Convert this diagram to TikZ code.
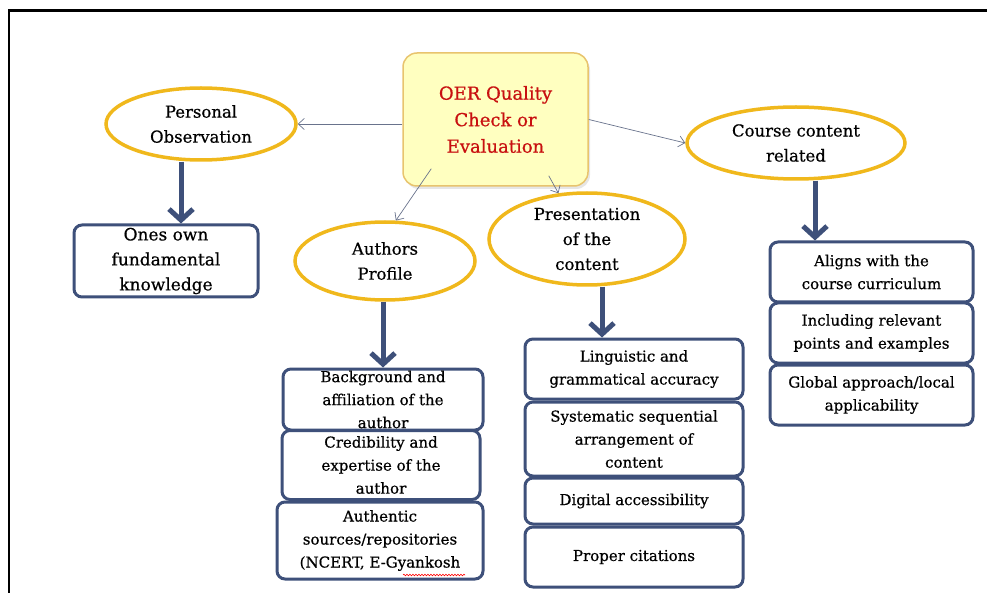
\documentclass[tikz,border=0pt]{standalone}
\usepackage{fontspec}
\setmainfont[FakeBold=0.6]{DejaVu Serif}
\usetikzlibrary{arrows.meta,shapes.geometric,shadows,calc,decorations.pathmorphing}

\definecolor{oergold}{RGB}{240,184,28}
\definecolor{oernavy}{RGB}{62,80,122}
\definecolor{oerline}{RGB}{105,115,140}
\definecolor{oerfill}{RGB}{255,255,192}
\definecolor{oeredge}{RGB}{232,196,110}
\definecolor{oerred}{RGB}{200,16,16}

\tikzset{
  topic/.style={ellipse, draw=oergold, line width=3.5pt, fill=white, inner sep=0pt,
    align=center, font=\fontsize{16.5}{25}\selectfont},
  item/.style={rectangle, rounded corners=8pt, draw=oernavy, line width=3pt, fill=white,
    inner sep=0pt, align=center, font=\fontsize{15}{23}\selectfont},
  link/.style={draw=oerline, line width=0.7pt, -{Straight Barb[length=6pt,width=11pt]}},
  bigarrow/.style={draw=oernavy, line width=5pt, -{Straight Barb[length=11pt,width=24pt]}}
}

\begin{document}
\begin{tikzpicture}[x=1pt,y=-1pt]
    \useasboundingbox (0,0) rectangle (987,593);
    % Draw frame
    \draw[line width=2.5pt] (987,10.5) -- (9,10.5) -- (9,593);

    % Central node
    \node[rectangle, rounded corners=14pt, draw=oeredge, line width=1.5pt, fill=oerfill,
        minimum width=185pt, minimum height=133pt, text=oerred, align=center,
        font=\fontsize{18}{26.5}\selectfont,
        drop shadow={shadow xshift=2pt, shadow yshift=-3pt, opacity=0.2}]
        (oer) at (495.5,119.5) {OER Quality\\Check or\\Evaluation};

    % Topics
    \node[topic, minimum width=190pt, minimum height=72pt] (pers) at (201,124) {Personal\\Observation};
    \node[topic, minimum width=180pt, minimum height=78pt] (auth) at (385,261) {Authors\\Profile};
    \node[topic, minimum width=196pt, minimum height=92pt] (pres) at (587,239) {Presentation\\of the\\content};
    \node[topic, minimum width=218pt, minimum height=72pt] (course) at (796,143) {Course content\\related};

    % Boxes
    \node[item, minimum width=184pt, minimum height=72pt, font=\fontsize{17}{25}\selectfont]
        (own) at (166,261) {Ones own\\fundamental\\knowledge};

    \node[item, minimum width=200pt, minimum height=61pt] (auth1) at (383,399.5) {Background and\\affiliation of the\\author};
    \node[item, minimum width=198pt, minimum height=69pt] (auth2) at (381,465) {Credibility and\\expertise of the\\author};
    \node[item, minimum width=206pt, minimum height=77pt] (auth3) at (380,540.5) {Authentic\\sources/repositories\\(NCERT, E-Gyankosh};

    \node[item, minimum width=218pt, minimum height=60pt] (pres1) at (634,369) {Linguistic and\\grammatical accuracy};
    \node[item, minimum width=218pt, minimum height=74pt] (pres2) at (634,439) {Systematic sequential\\arrangement of\\content};
    \node[item, minimum width=218pt, minimum height=46pt] (pres3) at (634,501) {Digital accessibility};
    \node[item, minimum width=218pt, minimum height=60pt] (pres4) at (634,557) {Proper citations};

    \node[item, minimum width=203pt, minimum height=60pt] (crs1) at (871.5,272) {Aligns with the\\course curriculum};
    \node[item, minimum width=203pt, minimum height=60pt] (crs2) at (871.5,333) {Including relevant\\points and examples};
    \node[item, minimum width=203pt, minimum height=60pt] (crs3) at (871.5,395) {Global approach/local\\applicability};

    % Thin links from the centre
    \draw[link] (oer.west |- pers.east) -- (pers.east);
    \draw[link] ($(oer.south west)+(29,-18)$) -- (auth.75);
    \draw[link] ($(oer.south east)+(-40,-11)$) -- (pres.122);
    \draw[link] (oer.east) -- (course.west);

    % Thick arrows down
    \draw[bigarrow] ([xshift=-20pt]pers.south) -- ([xshift=-20pt]pers.south |- own.north);
    \draw[bigarrow] (auth.south -| auth1.north) -- (auth1.north);
    \draw[bigarrow] ([xshift=15pt]pres.south) -- ([xshift=15pt]pres.south |- pres1.north);
    \draw[bigarrow] ([xshift=19pt]course.south) -- ([xshift=19pt]course.south |- crs1.north);

    % spell check mark
    \draw[red, line width=0.6pt, decorate, decoration={snake, amplitude=0.8pt, segment length=3pt}]
        ($(auth3.center)+(23,34.5)$) -- ($(auth3.center)+(85,34.5)$);
\end{tikzpicture}
\end{document}
